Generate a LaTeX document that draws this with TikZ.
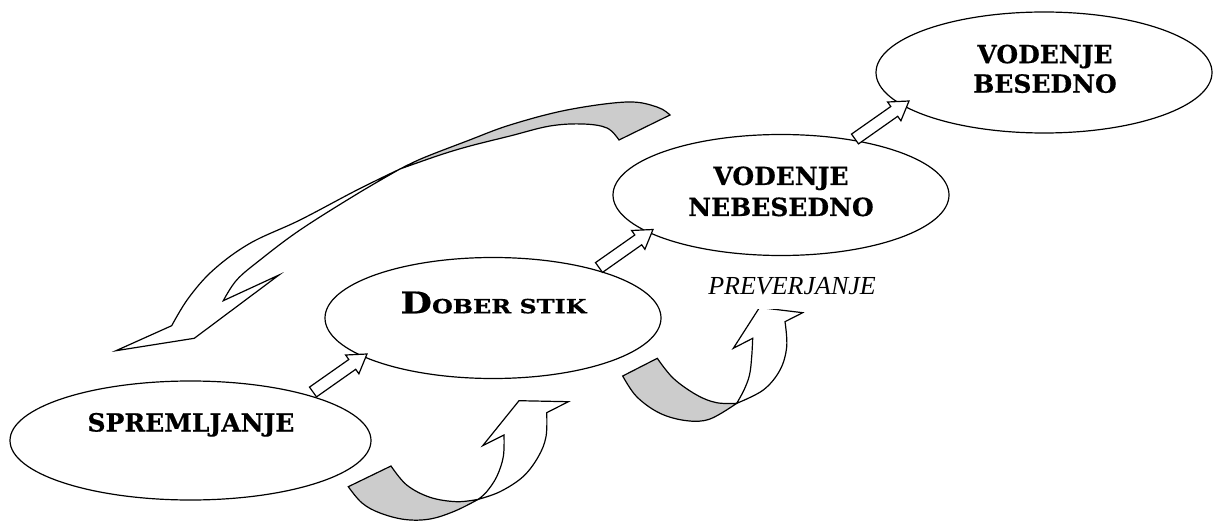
\documentclass[tikz,border=0pt]{standalone}
\usepackage{fontspec}
\newfontfamily\schfont{DejaVu Serif}[BoldFeatures={FakeBold=0.5}]
\newfontfamily\timesfont{Liberation Serif}
\usetikzlibrary{shapes.geometric,calc}
\definecolor{ribbongray}{gray}{0.8}
\tikzset{
  oval/.style={draw, ellipse, fill=white, inner sep=0pt, minimum width=336pt, minimum height=121pt},
  lbl/.style={font=\schfont\bfseries\fontsize{25}{29.5}\selectfont, inner sep=0pt, align=center},
  ribwhite/.style={draw, fill=white, line join=miter},
  ribgray/.style={draw, fill=ribbongray, line join=miter},
  blockarr/.pic={\draw[fill=white, line join=miter] (0,0) -- (-21.4,1.0) -- (-18.2,5.5) -- (-57.5,33.1) -- (-50.5,42.9) -- (-11.3,15.3) -- (-8.1,19.8) -- cycle;}
}
\begin{document}
\begin{tikzpicture}[x=1pt,y=-1pt,line width=1.2pt]
\useasboundingbox (0,0) rectangle (1214,521);

% ellipses
\node[oval, minimum width=361pt, minimum height=119pt] (sp) at (190.5,440.5) {};
\node[oval] (ds) at (493,318) {};
\node[oval] (vn) at (781,195) {};
\node[oval] (vb) at (1044,72.5) {};

% labels
\node[lbl, anchor=base] (spt) at (191,431.5) {SPREMLJANJE};
\node[lbl, anchor=base] (dst) at (493.5,313.3) {\scalebox{1.22}[1]{{\fontsize{29.8}{30}\selectfont D}{\fontsize{19.6}{20}\selectfont OBER STIK}}};
\node[lbl, font=\schfont\bfseries\fontsize{25}{31}\selectfont, anchor=base] (vnt) at (781,216) {VODENJE\\NEBESEDNO};
\node[lbl, anchor=base] (vbt) at (1045,92.7) {VODENJE\\BESEDNO};

% block arrows between ellipses
\pic at ($(ds.center)+(-126,36)$) {blockarr};
\pic at ($(vn.center)+(-128,34.5)$) {blockarr};
\pic at ($(vb.center)+(-135,28.5)$) {blockarr};

% big curved arrow (top left), white front
\draw[ribwhite] plot[smooth, tension=0.6] coordinates {(400,169) (357,190) (300,220) (250,243.3) (213.3,270) (188.3,298.3) (171.7,325.7)}
  -- (116,350.7) -- (194.3,338.3) -- (279,275) -- (223.3,300.7)
  -- plot[smooth, tension=0.6] coordinates {(223.3,300.7) (236.7,280) (260,260) (300,230) (357,194) (400,169)} -- cycle;
% big curved arrow, gray back
\draw[ribgray] plot[smooth, tension=0.6] coordinates {(400,169) (423,158) (467,141) (510,125) (567,110) (627,102) (657,107) (670,115)}
  -- (619,140)
  -- plot[smooth, tension=0.6] coordinates {(619,140) (607,128) (583,124) (550,126) (510,136) (470,146) (440,155) (400,169)} -- cycle;

% curved arrow under DOBER STIK
\draw[ribgray] (348.3,486.7) -- (391,466)
  -- plot[smooth, tension=0.6] coordinates {(391,466) (406.7,485) (430,497.3) (456.7,501.7) (478.3,499.3)}
  -- plot[smooth, tension=0.6] coordinates {(478.3,499.3) (455,511) (430,519) (405,519.5) (380,513) (362,503) (348.3,486.7)} -- cycle;
\draw[ribwhite] plot[smooth, tension=0.6] coordinates {(478.3,499.3) (486.7,491.7) (496.7,476.7) (503.3,456.7) (504,435)}
  -- (482.7,445.7) -- (519,400.7) -- (568.3,401.7) -- (546.7,412.7)
  -- plot[smooth, tension=0.6] coordinates {(546.7,412.7) (546,436.7) (538.3,456.7) (523,476.7) (500,491.7) (478.3,499.3)} -- cycle;

% curved arrow under PREVERJANJE
\draw[ribgray] (622.7,376) -- (657.3,358.3)
  -- plot[smooth, tension=0.6] coordinates {(657.3,358.3) (673.3,378.3) (696.7,395) (716.7,402.7) (736.7,403.3)}
  -- plot[smooth, tension=0.6] coordinates {(736.7,403.3) (710,419) (686.7,420.7) (660,413.3) (636.7,396.7) (622.7,376)} -- cycle;
\draw[ribwhite] plot[smooth, tension=0.6] coordinates {(736.7,403.3) (744,390) (749.5,375) (751.7,356.7) (752.7,338.3)}
  -- (733.3,348.3) -- (759.5,307.5) -- (802.7,312.7) -- (785,321.7)
  -- plot[smooth, tension=0.6] coordinates {(785,321.7) (786.7,346.7) (780,370) (763.3,390) (736.7,403.3)} -- cycle;

% PREVERJANJE label (white box hides the arrow head tip)
\node[font=\timesfont\itshape\fontsize{26}{30}\selectfont, fill=white, inner sep=0pt, text depth=15pt, anchor=base] (pv) at (792,294.3) {PREVERJANJE};
\end{tikzpicture}
\end{document}
